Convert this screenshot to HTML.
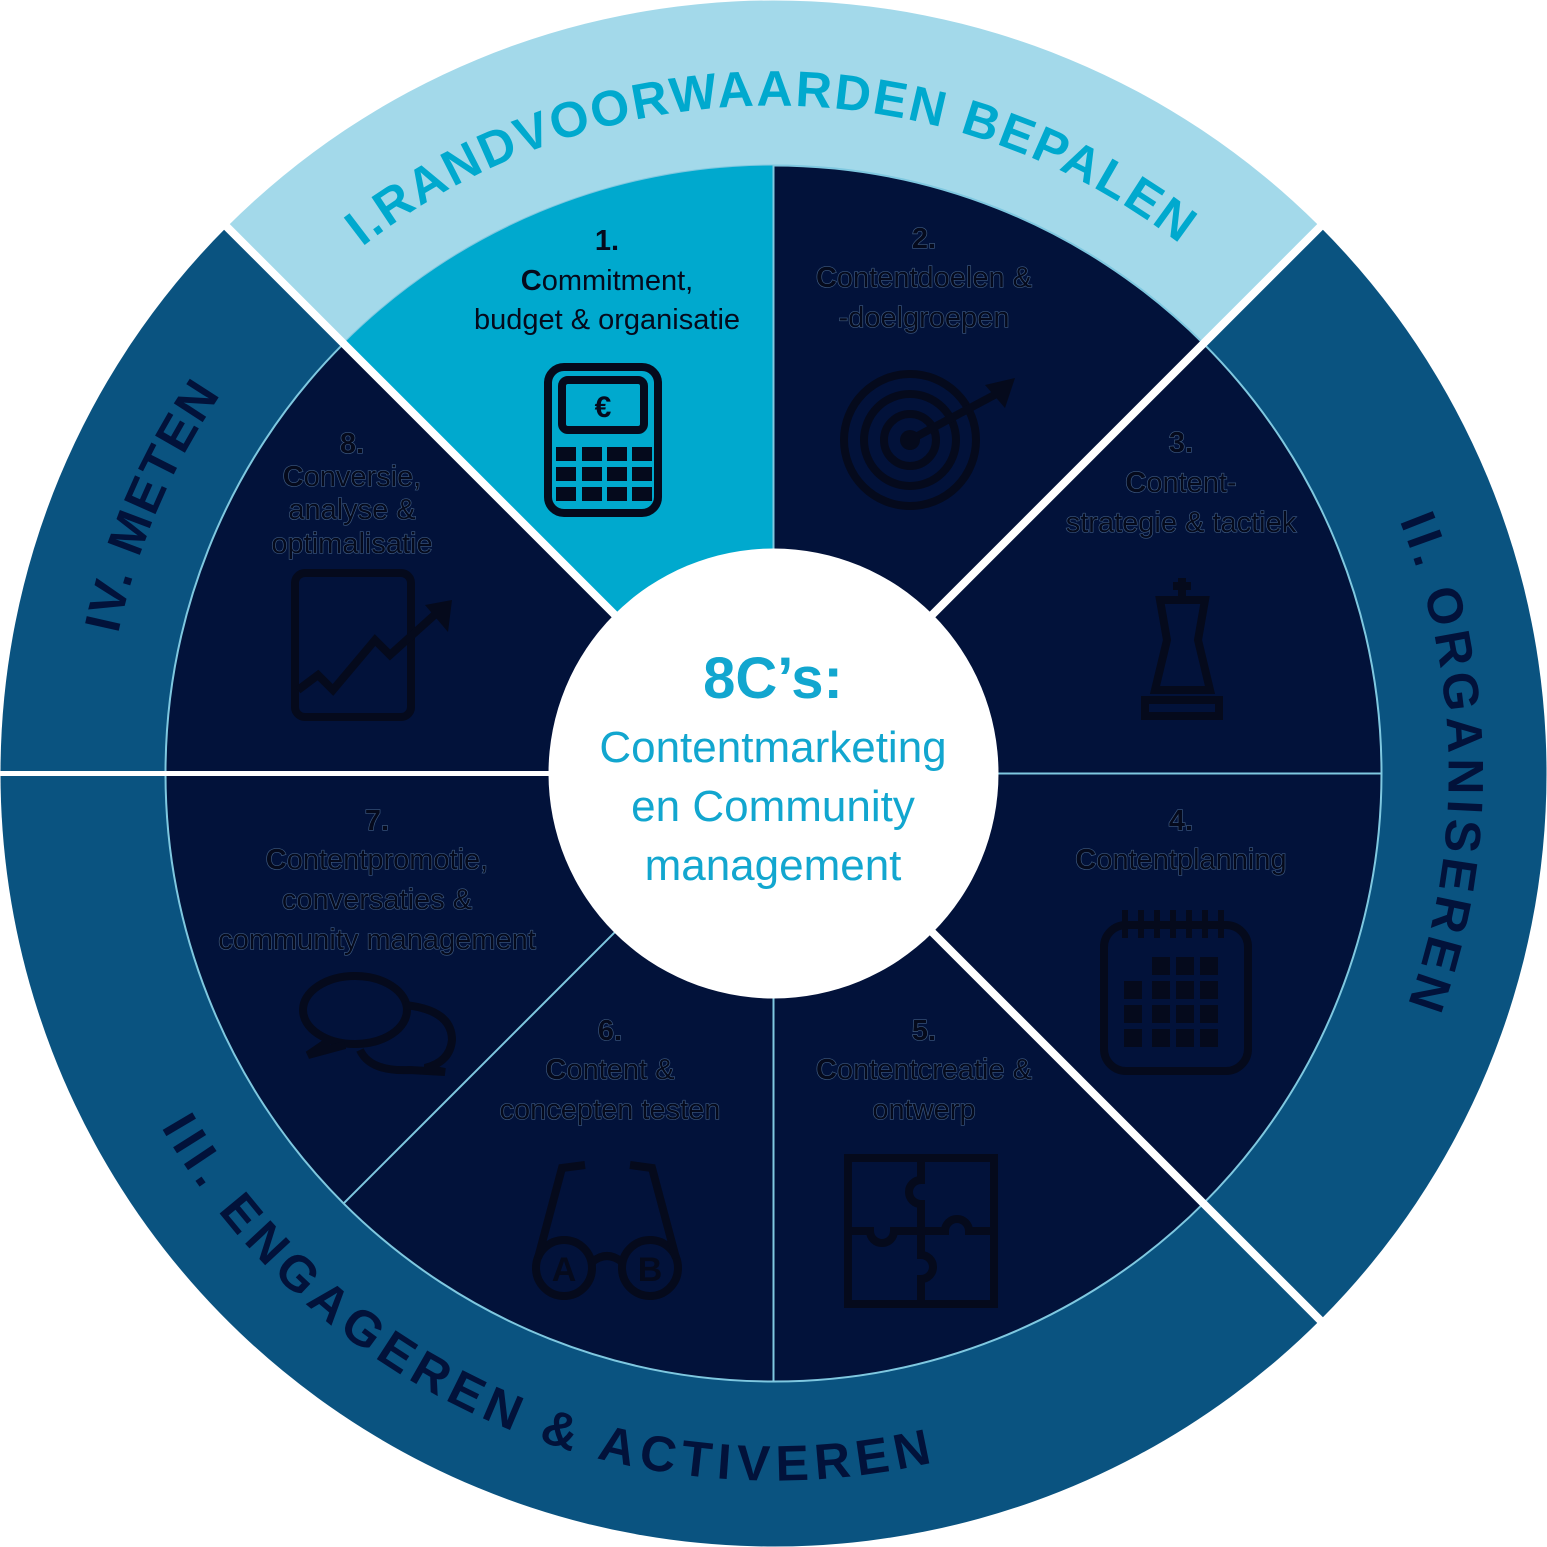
<!DOCTYPE html>
<html><head><meta charset="utf-8"><style>
html,body{margin:0;padding:0;background:#fff;}
svg{display:block;}
.t{font-family:"Liberation Sans",sans-serif;font-size:29px;fill:#050a1c;text-anchor:middle;}
.d{stroke:#3e5a80;stroke-width:1.3;paint-order:stroke;}
.arc{font-family:"Liberation Sans",sans-serif;font-weight:bold;font-size:50px;}
</style></head><body>
<svg width="1547" height="1547" viewBox="0 0 1547 1547" xmlns="http://www.w3.org/2000/svg">
<defs>
<path id="pTop2" d="M 362 247 A 668 668 0 0 1 1245 301" fill="none"/>
<path id="pRight" d="M 1399.5 520.6 A 675 675 0 0 1 1358 1111" fill="none"/>
<path id="pBot" d="M 161 1127 A 707 707 0 0 0 1015 1438" fill="none"/>
<path id="pLeft" d="M 118 634 A 670 670 0 0 1 299.7 299.7" fill="none"/>
</defs>
<path d="M773.5 773.5 L226.9 226.9 A773 773 0 0 1 1320.1 226.9 Z" fill="#a3d9ea"/>
<path d="M773.5 773.5 L1320.1 226.9 A773 773 0 0 1 1320.1 1320.1 Z" fill="#0a5380"/>
<path d="M773.5 773.5 L1320.1 1320.1 A773 773 0 0 1 0.5 773.5 Z" fill="#0a5380"/>
<path d="M773.5 773.5 L0.5 773.5 A773 773 0 0 1 226.9 226.9 Z" fill="#0a5380"/>
<circle cx="773.5" cy="773.5" r="608" fill="#02123a" stroke="#7fc8e0" stroke-width="2"/>
<path d="M773.5 773.5 L773.5 165.5 A608 608 0 0 0 343.6 343.6 Z" fill="#00a9ce"/>
<g stroke="#7fc8e0" stroke-width="2">
<line x1="773.5" y1="165" x2="773.5" y2="1382"/>
<line x1="773.5" y1="773.5" x2="1382" y2="773.5"/>
<line x1="773.5" y1="773.5" x2="343.6" y2="1203.4"/>
</g>
<g stroke="#fff" stroke-width="8">
<line x1="773.5" y1="773.5" x2="226" y2="226"/>
<line x1="773.5" y1="773.5" x2="1321" y2="226"/>
<line x1="773.5" y1="773.5" x2="1321" y2="1321"/>
<line x1="773.5" y1="773.5" x2="0" y2="773.5" stroke-width="5"/>
</g>
<circle cx="773.5" cy="773.5" r="225" fill="#fff"/>
<g font-family="Liberation Sans, sans-serif" fill="#12a6cf" text-anchor="middle">
<text x="773" y="698" font-size="58" font-weight="bold">8C’s:</text>
<text x="773" y="762" font-size="44">Contentmarketing</text>
<text x="773" y="821" font-size="44">en Community</text>
<text x="773" y="880" font-size="44">management</text>
</g>
<text class="arc" fill="#00a9ce"><textPath href="#pTop2" textLength="880" lengthAdjust="spacing">I.RANDVOORWAARDEN BEPALEN</textPath></text>
<text class="arc" fill="#02123a"><textPath href="#pRight" textLength="495" lengthAdjust="spacing">II. ORGANISEREN</textPath></text>
<text class="arc" fill="#02123a"><textPath href="#pBot" textLength="901" lengthAdjust="spacing">III. ENGAGEREN &amp; ACTIVEREN</textPath></text>
<text class="arc" fill="#02123a"><textPath href="#pLeft" textLength="262" lengthAdjust="spacing">IV. METEN</textPath></text>
<text class="t" x="607" y="250" font-weight="bold">1.</text>
<text class="t" x="607" y="290"><tspan font-weight="bold">C</tspan>ommitment,</text>
<text class="t" x="607" y="329">budget &amp; organisatie</text>
<g>
<text class="t d" x="924" y="248" font-weight="bold">2.</text>
<text class="t d" x="924" y="287"><tspan font-weight="bold">C</tspan>ontentdoelen &amp;</text>
<text class="t d" x="924" y="327">-doelgroepen</text>
<text class="t d" x="1181" y="452" font-weight="bold">3.</text>
<text class="t d" x="1181" y="492"><tspan font-weight="bold">C</tspan>ontent-</text>
<text class="t d" x="1181" y="532">strategie &amp; tactiek</text>
<text class="t d" x="1181" y="830" font-weight="bold">4.</text>
<text class="t d" x="1181" y="869"><tspan font-weight="bold">C</tspan>ontentplanning</text>
<text class="t d" x="924" y="1040" font-weight="bold">5.</text>
<text class="t d" x="924" y="1079"><tspan font-weight="bold">C</tspan>ontentcreatie &amp;</text>
<text class="t d" x="924" y="1119">ontwerp</text>
<text class="t d" x="610" y="1040" font-weight="bold">6.</text>
<text class="t d" x="610" y="1079"><tspan font-weight="bold">C</tspan>ontent &amp;</text>
<text class="t d" x="610" y="1119">concepten testen</text>
<text class="t d" x="377" y="830" font-weight="bold">7.</text>
<text class="t d" x="377" y="869"><tspan font-weight="bold">C</tspan>ontentpromotie,</text>
<text class="t d" x="377" y="909">conversaties &amp;</text>
<text class="t d" x="377" y="949">community management</text>
<text class="t d" x="352" y="453" font-weight="bold">8.</text>
<text class="t d" x="352" y="486"><tspan font-weight="bold">C</tspan>onversie,</text>
<text class="t d" x="352" y="519">analyse &amp;</text>
<text class="t d" x="352" y="553">optimalisatie</text>
</g>
<g fill="none" stroke="#050a1c" stroke-width="8">
<rect x="548" y="367" width="110" height="146" rx="16"/>
<rect x="562" y="380" width="82" height="50" rx="6"/>
<circle cx="910" cy="440" r="66"/><circle cx="910" cy="440" r="46"/><circle cx="910" cy="440" r="26"/>
<line x1="910" y1="440" x2="1000" y2="392"/>
<rect x="295" y="573" width="116" height="144" rx="10"/>
<polyline points="298,690 318,675 333,690 375,640 390,655 440,610"/>
<rect x="1104" y="925" width="144" height="146" rx="22"/>
<rect x="848" y="1158" width="146" height="146"/>
<path d="M921 1158 L921 1180 A12 12 0 1 0 921 1204 L921 1231 L945 1231 A12 12 0 1 1 969 1231 L994 1231"/>
<path d="M848 1231 L870 1231 A12 12 0 1 0 894 1231 L921 1231 L921 1255 A12 12 0 1 1 921 1279 L921 1304"/>
<circle cx="564" cy="1268" r="28"/><circle cx="650" cy="1268" r="28"/>
<path d="M592 1262 Q607 1250 622 1262"/><path d="M538 1258 L562 1168 L585 1165"/><path d="M676 1258 L652 1168 L630 1165"/>
<ellipse cx="355" cy="1010" rx="52" ry="34"/><path d="M330 1040 L308 1055 L345 1045"/>
<path d="M405 1005 Q452 1010 452 1040 Q450 1062 425 1068 L445 1072 L410 1070 Q370 1072 360 1050"/>
<path d="M1160 600 L1205 600 L1198 640 L1210 690 L1155 690 L1167 640 Z"/>
<rect x="1145" y="700" width="74" height="16"/>
<line x1="1182" y1="578" x2="1182" y2="598"/><line x1="1173" y1="586" x2="1191" y2="586"/>
</g>
<g fill="#050a1c">
<text x="603" y="417" font-family="Liberation Sans,sans-serif" font-weight="bold" font-size="30" text-anchor="middle">€</text>
<rect x="556" y="447" width="20" height="14"/><rect x="582" y="447" width="20" height="14"/><rect x="607" y="447" width="20" height="14"/><rect x="632" y="447" width="20" height="14"/>
<rect x="556" y="467" width="20" height="14"/><rect x="582" y="467" width="20" height="14"/><rect x="607" y="467" width="20" height="14"/><rect x="632" y="467" width="20" height="14"/>
<rect x="556" y="487" width="20" height="14"/><rect x="582" y="487" width="20" height="14"/><rect x="607" y="487" width="20" height="14"/><rect x="632" y="487" width="20" height="14"/>
<circle cx="910" cy="440" r="10"/>
<polygon points="985,385 1015,378 1005,408"/>
<polygon points="425,605 452,600 448,632"/>
<rect x="1152" y="957" width="18" height="18"/><rect x="1176" y="957" width="18" height="18"/><rect x="1200" y="957" width="18" height="18"/>
<rect x="1124" y="981" width="18" height="18"/><rect x="1152" y="981" width="18" height="18"/><rect x="1176" y="981" width="18" height="18"/><rect x="1200" y="981" width="18" height="18"/>
<rect x="1124" y="1005" width="18" height="18"/><rect x="1152" y="1005" width="18" height="18"/><rect x="1176" y="1005" width="18" height="18"/><rect x="1200" y="1005" width="18" height="18"/>
<rect x="1124" y="1029" width="18" height="18"/><rect x="1152" y="1029" width="18" height="18"/><rect x="1176" y="1029" width="18" height="18"/><rect x="1200" y="1029" width="18" height="18"/>
<rect x="1122" y="910" width="6" height="28"/><rect x="1138" y="910" width="6" height="28"/><rect x="1154" y="910" width="6" height="28"/><rect x="1170" y="910" width="6" height="28"/><rect x="1186" y="910" width="6" height="28"/><rect x="1202" y="910" width="6" height="28"/><rect x="1218" y="910" width="6" height="28"/>
<text x="564" y="1281" font-family="Liberation Sans,sans-serif" font-weight="bold" font-size="34" text-anchor="middle">A</text>
<text x="650" y="1281" font-family="Liberation Sans,sans-serif" font-weight="bold" font-size="34" text-anchor="middle">B</text>
</g>
</svg>
</body></html>
